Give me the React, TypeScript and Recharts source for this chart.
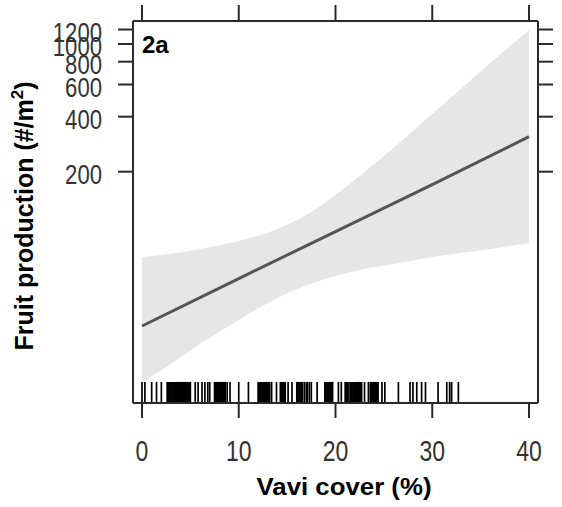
import React from 'react';
import { ComposedChart, XAxis, YAxis, Area, Line, Scatter } from 'recharts';

// Confidence band (x = Vavi cover %, values = fruit production #/m2)
const bandX = [0, 2, 6, 10, 14, 16, 18, 20, 22.5, 26, 30, 36, 40];
const bandUpper = [68.3, 70.0, 75.5, 83.5, 97.2, 108.8, 125, 149, 189.5, 270, 414, 787, 1193];
const bandLower = [14.1, 16.4, 22.8, 30.9, 40.7, 45.6, 49.8, 53.7, 57.9, 62.5, 68.3, 75.5, 81.4];

// Fitted line
const fitX = [0, 10, 20, 30, 40];
const fitY = [28.6, 52, 94, 170, 311];

// Axis ticks
const xTicks = [0, 10, 20, 30, 40];
const yTicks = [200, 400, 600, 800, 1000, 1200];

// Rug (observed Vavi cover values)
const rugX = [
  0, 0.3, 1.0, 1.5, 2.0,
  2.6, 2.7, 2.8, 2.9, 3.0, 3.1, 3.2, 3.3, 3.4, 3.5, 3.6, 3.7, 3.8, 3.9, 4.0, 4.1, 4.2, 4.3, 4.4, 4.5, 4.6, 4.7, 4.8, 4.9, 5.0,
  5.5, 5.8, 6.2, 6.5, 6.8, 7.0,
  7.5, 7.6, 7.7, 7.8, 7.9, 8.0, 8.1, 8.2, 8.3, 8.4, 8.5, 8.6, 8.8, 9.1,
  10.0, 11.0,
  12.0, 12.1, 12.2, 12.3, 12.4, 12.5, 12.6, 12.7, 12.8, 12.9, 13.0, 13.1, 13.2, 13.4,
  13.9, 14.3, 14.4, 14.5, 14.6, 14.7, 14.8, 15.1, 15.5,
  16.0, 16.1, 16.2, 16.3, 16.4, 16.5, 16.6, 16.8, 17.0, 17.1, 17.3, 17.5,
  18.1, 18.9, 19.0, 19.1, 19.2, 19.3, 19.4, 19.5, 19.6, 19.7, 20.3, 20.6,
  21.0, 21.1, 21.2, 21.3, 21.5, 21.6, 21.7, 21.8, 21.9, 22.0, 22.1, 22.2, 22.3, 22.4, 22.5, 22.6, 22.7,
  23.0, 23.4, 23.6, 23.7, 23.8, 23.9, 24.0, 24.1, 24.2, 24.3, 24.4, 24.8, 25.1,
  26.5, 27.7, 28.0, 28.4, 28.9, 29.3, 30.6, 31.5, 31.8, 32.0, 32.7,
];
const RUG_LEVEL = 12.46;

const bandData = bandX.map((x, i) => ({ x, lo: bandLower[i], hi: bandUpper[i] }));
const fitData = fitX.map((x, i) => ({ x, y: fitY[i] }));
const rugData = rugX.map((x) => ({ x, y: RUG_LEVEL }));

const X_DOMAIN: [number, number] = [-0.93, 40.93];
const Y_DOMAIN: [number, number] = [10.84, 1336];

const FONT = 'Liberation Sans, Arial, Helvetica, sans-serif';
const AXIS_COLOR = '#2a2a2a';

const BottomTick = (props: any) => {
  const { x, y, payload } = props;
  const s = String(payload.value);
  return (
    <text
      x={x}
      y={y + 43}
      textAnchor="middle"
      fontSize={30}
      fontFamily={FONT}
      fill="#333"
      textLength={12.8 * s.length}
      lengthAdjust="spacingAndGlyphs"
    >
      {s}
    </text>
  );
};

const LeftTick = (props: any) => {
  const { x, y, payload } = props;
  const s = String(payload.value);
  return (
    <text
      x={x - 16}
      y={y + 12}
      textAnchor="end"
      fontSize={28}
      fontFamily={FONT}
      fill="#333"
      textLength={12.3 * s.length}
      lengthAdjust="spacingAndGlyphs"
    >
      {s}
    </text>
  );
};

const EmptyTick = () => <g />;

const RugMark = (props: any) => {
  const { cx, cy } = props;
  return <line x1={cx} x2={cx} y1={cy - 10} y2={cy + 10} stroke="#000" strokeWidth={1.7} />;
};

export default function App() {
  return (
    <div style={{ position: 'absolute', left: 0, top: 0, width: 562, height: 507, background: '#fff' }}>
      <ComposedChart width={562} height={507} data={bandData} margin={{ top: 0, right: 0, bottom: 0, left: 0 }}>
        <XAxis
          dataKey="x"
          type="number"
          domain={X_DOMAIN}
          allowDataOverflow
          ticks={xTicks}
          interval={0}
          height={104}
          tickSize={15}
          tickMargin={0}
          stroke={AXIS_COLOR}
          axisLine={{ strokeWidth: 2 }}
          tickLine={{ strokeWidth: 2 }}
          tick={BottomTick}
        />
        <XAxis
          xAxisId="top"
          orientation="top"
          dataKey="x"
          type="number"
          domain={X_DOMAIN}
          allowDataOverflow
          ticks={xTicks}
          interval={0}
          height={21}
          tickSize={16}
          stroke={AXIS_COLOR}
          axisLine={{ strokeWidth: 2 }}
          tickLine={{ strokeWidth: 2 }}
          tick={EmptyTick}
        />
        <YAxis
          type="number"
          scale="log"
          domain={Y_DOMAIN}
          allowDataOverflow
          ticks={yTicks}
          interval={0}
          width={133}
          tickSize={15}
          tickMargin={0}
          stroke={AXIS_COLOR}
          axisLine={{ strokeWidth: 2 }}
          tickLine={{ strokeWidth: 2 }}
          tick={LeftTick}
        />
        <YAxis
          yAxisId="right"
          orientation="right"
          type="number"
          scale="log"
          domain={Y_DOMAIN}
          allowDataOverflow
          ticks={yTicks}
          interval={0}
          width={24}
          tickSize={15}
          stroke={AXIS_COLOR}
          axisLine={{ strokeWidth: 2 }}
          tickLine={{ strokeWidth: 2 }}
          tick={EmptyTick}
        />
        <Area
          type="monotone"
          dataKey={(d: any) => [d.lo, d.hi]}
          stroke="none"
          fill="#e6e6e6"
          fillOpacity={1}
          isAnimationActive={false}
          activeDot={false}
        />
        <Line
          data={fitData}
          type="linear"
          dataKey="y"
          stroke="#555"
          strokeWidth={3}
          dot={false}
          activeDot={false}
          isAnimationActive={false}
        />
        <Scatter data={rugData} dataKey="y" shape={RugMark} isAnimationActive={false} />
      </ComposedChart>
      <svg
        width={562}
        height={507}
        style={{ position: 'absolute', left: 0, top: 0, pointerEvents: 'none' }}
      >
        <text x={142} y={52.7} fontSize={24} fontWeight="bold" fontFamily={FONT} fill="#000">
          2a
        </text>
        <text
          x={344}
          y={495}
          textAnchor="middle"
          fontSize={24}
          fontWeight="bold"
          fontFamily={FONT}
          fill="#000"
          textLength={175}
          lengthAdjust="spacingAndGlyphs"
        >
          Vavi cover (%)
        </text>
        <text
          transform="translate(33,216) rotate(-90)"
          textAnchor="middle"
          fontSize={25}
          fontWeight="bold"
          fontFamily={FONT}
          fill="#000"
        >
          <tspan>Fruit production (#/m</tspan>
          <tspan fontSize={17} dy={-10}>2</tspan>
          <tspan dy={10}>)</tspan>
        </text>
      </svg>
    </div>
  );
}
